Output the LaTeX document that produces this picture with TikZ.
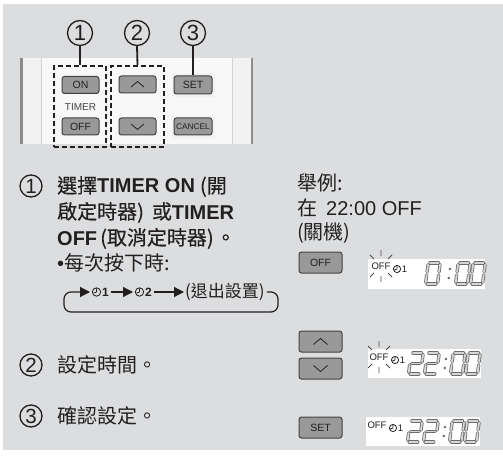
\documentclass[tikz,border=0pt]{standalone}
\usepackage{fontspec}
\setmainfont{Liberation Sans}
\newfontfamily\cjk{Noto Sans CJK TC}
\newfontfamily\cjkm[FakeBold=0.35]{Noto Sans CJK TC}
\usetikzlibrary{arrows.meta}
\definecolor{bgc}{HTML}{DCDDDF}
\definecolor{ink}{HTML}{231F20}
\definecolor{btnc}{HTML}{999999}
\definecolor{panelc}{HTML}{F2F2F2}
\definecolor{innerc}{HTML}{F8F8F8}
\definecolor{barc}{HTML}{8C8C8C}
\definecolor{segc}{HTML}{6A6A6A}
\definecolor{segin}{HTML}{D6D6D6}
\newcommand{\sgA}{\draw[sevseg] (2.2,-21)--(10.8,-21);}
\newcommand{\sgB}{\draw[sevseg] (12.5,-19.3)--(12.5,-12);}
\newcommand{\sgC}{\draw[sevseg] (12.5,-9)--(12.5,-1.7);}
\newcommand{\sgD}{\draw[sevseg] (2.2,0)--(10.8,0);}
\newcommand{\sgE}{\draw[sevseg] (0.5,-9)--(0.5,-1.7);}
\newcommand{\sgF}{\draw[sevseg] (0.5,-19.3)--(0.5,-12);}
\newcommand{\sgG}{\draw[sevseg] (2.2,-10.5)--(10.8,-10.5);}
\newcommand{\dzero}{\sgA\sgB\sgC\sgD\sgE\sgF}
\newcommand{\dtwo}{\sgA\sgB\sgG\sgE\sgD}
\newcommand{\segcolon}{\fill[segc] (0,-6) circle (1.4); \fill[segc] (0,-15) circle (1.4);}
\newcommand{\lcd}[3]{\begin{scope}[shift={(#1,#2)},xslant=0.13]#3\end{scope}}
\newcommand{\blink}[2]{\begin{scope}[shift={(#1,#2)}]
  \draw[blinkl] (0,-16)--(0,-10) (0,10)--(0,16) (-11,-11)--(-7,-7) (11,-11)--(7,-7) (-11,11)--(-7,7) (11,11)--(7,7);
\end{scope}}
\newcommand{\clockicon}[3]{\draw[ink, line width=0.8] (#1,#2) circle (#3) (#1,#2) -- ++(0,-0.75*#3) (#1,#2) -- ++(-0.65*#3,0.25*#3);}
\begin{document}
\begin{tikzpicture}[x=1pt,y=-1pt,
  sevseg/.style={draw=segc, line width=0.75pt, double=segin, double distance=1.8pt, line cap=round},
  blinkl/.style={draw=ink!80, line width=0.8pt},
  btnbox/.style={draw=ink!85, fill=btnc, rounded corners=2.5pt, line width=1pt, inner sep=0, text=ink, font=\fontsize{10.5}{10.5}\selectfont},
  dashbox/.style={draw=ink, line width=2.2pt, dash pattern=on 5pt off 3pt, inner sep=0},
  cnumr/.style={circle, draw=ink, line width=1.3pt, minimum size=25pt, inner sep=0, text=ink, font=\fontsize{22}{22}\selectfont},
  cnum/.style={circle, draw=ink, line width=1.3pt, minimum size=22pt, inner sep=0, text=ink, font=\fontsize{20.5}{20.5}\selectfont},
  lead/.style={draw=ink, line width=1.8pt},
  txt/.style={anchor=base west, inner sep=0, text=ink, font=\fontsize{20}{24}\selectfont},
  lcdbox/.style={fill=white, inner sep=0},
  lcdtxt/.style={inner sep=0, text=ink, font=\fontsize{9.5}{9.5}\selectfont},
  flowarr/.style={draw=ink, line width=1.2pt, -{Triangle[length=10pt,width=10pt]}}]
\useasboundingbox (0,0) rectangle (503,457);
\fill[white] (0,0) rectangle (503,457);
\fill[bgc] (3,4) rectangle (503,450);
% remote panel
\fill[panelc] (20,58) rectangle (253,144);
\fill[innerc] (41,58) rectangle (232,144);
\fill[barc] (20,58) rectangle (23,144);
\fill[barc] (250.5,58) rectangle (253,144);
\draw[gray!35, line width=0.6] (41,58)--(41,144) (232,58)--(232,144);
\fill[gray!10] (172,73) rectangle (215,97);
\fill[gray!10] (172,116) rectangle (215,139);
\node[btnbox, minimum width=37pt, minimum height=17pt] (bon) at (80.5,85) {ON};
\node[inner sep=0, text=ink!85, font=\fontsize{10}{10}\selectfont] (ltimer) at (80.5,107) {TIMER};
\node[btnbox, minimum width=37pt, minimum height=17pt] (boff) at (80.5,126.5) {OFF};
\node[btnbox, minimum width=37pt, minimum height=17pt] (bup) at (137.5,84.5) {};
\node[btnbox, minimum width=37pt, minimum height=17pt] (bdn) at (137.5,126.5) {};
\draw[ink, line width=0.8] ([xshift=-6.5pt,yshift=-2.5pt]bup.center) -- ([yshift=3pt]bup.center) -- ([xshift=6.5pt,yshift=-2.5pt]bup.center);
\draw[ink, line width=0.8] ([xshift=-6.5pt,yshift=2.5pt]bdn.center) -- ([yshift=-3pt]bdn.center) -- ([xshift=6.5pt,yshift=2.5pt]bdn.center);
\node[btnbox, minimum width=38pt, minimum height=18pt] (bset) at (193,85) {SET};
\node[btnbox, minimum width=38pt, minimum height=17pt, font=\fontsize{8.3}{8.3}\selectfont] (bcan) at (193,126.5) {CANCEL};
\node[dashbox, minimum width=52pt, minimum height=81pt] (g1) at (80,106.5) {};
\node[dashbox, minimum width=53pt, minimum height=81pt] (g2) at (137.5,106.5) {};
\node[cnumr] (c1) at (80,33) {1};
\node[cnumr] (c2) at (137,33) {2};
\node[cnumr] (c3) at (193,33) {3};
\draw[lead] (c1.south) -- (g1.north);
\draw[lead] (c2.south) -- (g2.north);
\draw[lead] (c3.south) -- (bset.north);
% step 1 text
\node[cnum] (n1) at (31,186) {1};
\node[txt] (t1) at (57,193) {{\cjkm 選擇}\textbf{TIMER ON}\hspace{5pt}{\cjkm (開}};
\node[txt] (t2) at (57,219) {{\cjkm 啟定時器)\hspace{8pt}或}\textbf{TIMER}};
\node[txt] (t3) at (57,245) {\textbf{OFF}\hspace{3pt}{\cjkm (取消定時器)\hspace{2pt}。}};
\node[txt] (t4) at (57,270) {\textbullet{\cjk 每次按下時:}};
% flow
\node[anchor=west, inner sep=0, text=ink, font=\bfseries\fontsize{12}{12}\selectfont] (f1) at (91,292) {\hspace{11pt}1};
\clockicon{96.5}{292}{4.2}
\node[anchor=west, inner sep=0, text=ink, font=\bfseries\fontsize{12}{12}\selectfont] (f2) at (134,292) {\hspace{11pt}2};
\clockicon{139.5}{292}{4.2}
\node[anchor=west, inner sep=0, text=ink, font=\cjk\fontsize{17}{17}\selectfont] (f3) at (185,292) {(退出設置)};
\draw[flowarr, shorten >=1pt] (f1.east) ++(2,0) coordinate (a1s) (a1s) -- (f2.west);
\draw[flowarr, shorten >=1pt] (f2.east) ++(2,0) coordinate (a2s) (a2s) -- (f3.west);
\draw[flowarr, rounded corners=7pt, shorten >=1pt] ([xshift=2pt]f3.east) -- (278,292) -- (278,312) -- (64,312) -- (64,292) -- (f1.west);
% right column
\node[txt] (r1) at (297,190) {{\cjk 舉例:}};
\node[txt] (r2) at (297,215) {{\cjk 在}\hspace{9pt}22:00 OFF};
\node[txt] (r3) at (297,239) {{\cjk (關機)}};
\node[btnbox, minimum width=43pt, minimum height=21pt] (boff2) at (320.5,262.5) {OFF};
% display 1
\node[lcdbox, minimum width=117pt, minimum height=30pt] (d1) at (426.5,274) {};
\node[lcdtxt] (o1) at (381,266) {OFF};
\blink{381}{266}
\clockicon{397}{269}{3.6}
\node[lcdtxt] (u1) at (404.5,269) {1};
\lcd{425}{284}{\dzero}\lcd{448}{284}{\segcolon}\lcd{455}{284}{\dzero}\lcd{470}{284}{\dzero}
% step 2
\node[cnum] (n2) at (31,365) {2};
\node[txt] (t5) at (57,372) {{\cjk 設定時間。}};
\node[btnbox, minimum width=43pt, minimum height=21pt] (bup2) at (320.5,341.5) {};
\node[btnbox, minimum width=43pt, minimum height=21pt] (bdn2) at (320.5,368.5) {};
\draw[ink, line width=0.8] ([xshift=-7pt,yshift=-3pt]bup2.center) -- ([yshift=3pt]bup2.center) -- ([xshift=7pt,yshift=-3pt]bup2.center);
\draw[ink, line width=0.8] ([xshift=-7pt,yshift=3pt]bdn2.center) -- ([yshift=-3pt]bdn2.center) -- ([xshift=7pt,yshift=3pt]bdn2.center);
\node[lcdbox, minimum width=113pt, minimum height=29pt] (d2) at (424.5,363.5) {};
\node[lcdtxt] (o2) at (379,357) {OFF};
\blink{379}{357}
\clockicon{395}{360}{3.6}
\node[lcdtxt] (u2) at (402.5,360) {1};
\lcd{408}{374}{\dtwo}\lcd{424}{374}{\dtwo}\lcd{444}{374}{\segcolon}\lcd{450}{374}{\dzero}\lcd{465}{374}{\dzero}
% step 3
\node[cnum] (n3) at (31,416) {3};
\node[txt] (t6) at (57,423) {{\cjk 確認設定。}};
\node[btnbox, minimum width=43pt, minimum height=21pt] (bset2) at (320.5,427.5) {SET};
\node[lcdbox, minimum width=114pt, minimum height=29pt] (d3) at (423,431.5) {};
\node[lcdtxt] (o3) at (377,425) {OFF};
\clockicon{393}{428}{3.6}
\node[lcdtxt] (u3) at (400.5,428) {1};
\lcd{407}{442}{\dtwo}\lcd{423}{442}{\dtwo}\lcd{443}{442}{\segcolon}\lcd{449}{442}{\dzero}\lcd{464}{442}{\dzero}
\end{tikzpicture}
\end{document}
